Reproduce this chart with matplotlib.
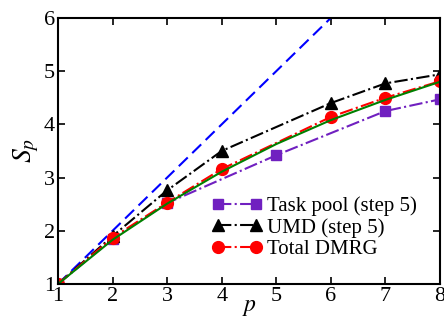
import numpy as np
import matplotlib
matplotlib.use('Agg')
import matplotlib.pyplot as plt

plt.rcParams['font.family'] = ['Liberation Serif', 'DejaVu Serif']
plt.rcParams['mathtext.fontset'] = 'stix'

# ideal speedup
p_ideal = [1, 2, 3, 4, 5, 6]
s_ideal = [1, 2, 3, 4, 5, 6]

# task pool (step 5)
p_task = [1, 2, 3, 5, 7, 8]
s_task = [1.0, 1.85, 2.52, 3.42, 4.25, 4.47]

# UMD (step 5)
p_umd = [1, 2, 3, 4, 6, 7, 8]
s_umd = [1.0, 1.90, 2.76, 3.50, 4.40, 4.77, 4.94]

# total DMRG
p_tot = [1, 2, 3, 4, 6, 7, 8]
s_tot = [1.0, 1.87, 2.53, 3.16, 4.14, 4.50, 4.81]

# fit curve
p_fit = [1, 2, 3, 4, 5, 6, 7, 8]
s_fit = [1.0, 1.83, 2.51, 3.11, 3.63, 4.08, 4.46, 4.80]

fig = plt.figure(figsize=(4.44, 3.2), dpi=100)
ax = fig.add_axes([0.1306, 0.1125, 0.8604, 0.8315])

ax.plot(p_ideal, s_ideal, '--', color='#0000ff', lw=1.5, dashes=(6, 3))
ax.plot(p_task, s_task, '-.', color='#7020c0', lw=1.5,
        marker='s', ms=7, label='Task pool (step 5)')
ax.plot(p_umd, s_umd, '-.', color='black', lw=1.5,
        marker='^', ms=8, label='UMD (step 5)')
ax.plot(p_tot, s_tot, '-.', color='#ff0000', lw=1.5,
        marker='o', ms=8.5, label='Total DMRG')
ax.plot(p_fit, s_fit, '-', color='#008000', lw=1.5)

ax.set_xlim(1, 8)
ax.set_ylim(1, 6)
ax.set_xticks(range(1, 9))
ax.set_yticks(range(1, 7))
ax.tick_params(direction='in', top=True, right=True, length=5, width=1.2,
               labelsize=16, pad=2)
for s in ax.spines.values():
    s.set_linewidth(1.5)

ax.set_xlabel(r'$p$', fontsize=17, labelpad=-6)
ax.set_ylabel(r'$S_p$', fontsize=20, labelpad=2)

ax.legend(loc='upper left', bbox_to_anchor=(0.364, 0.385), frameon=False,
          fontsize=15, numpoints=2, handlelength=2.45, handletextpad=0.2,
          labelspacing=0.1, borderpad=0.2)

fig.savefig('out.png', dpi=100)
